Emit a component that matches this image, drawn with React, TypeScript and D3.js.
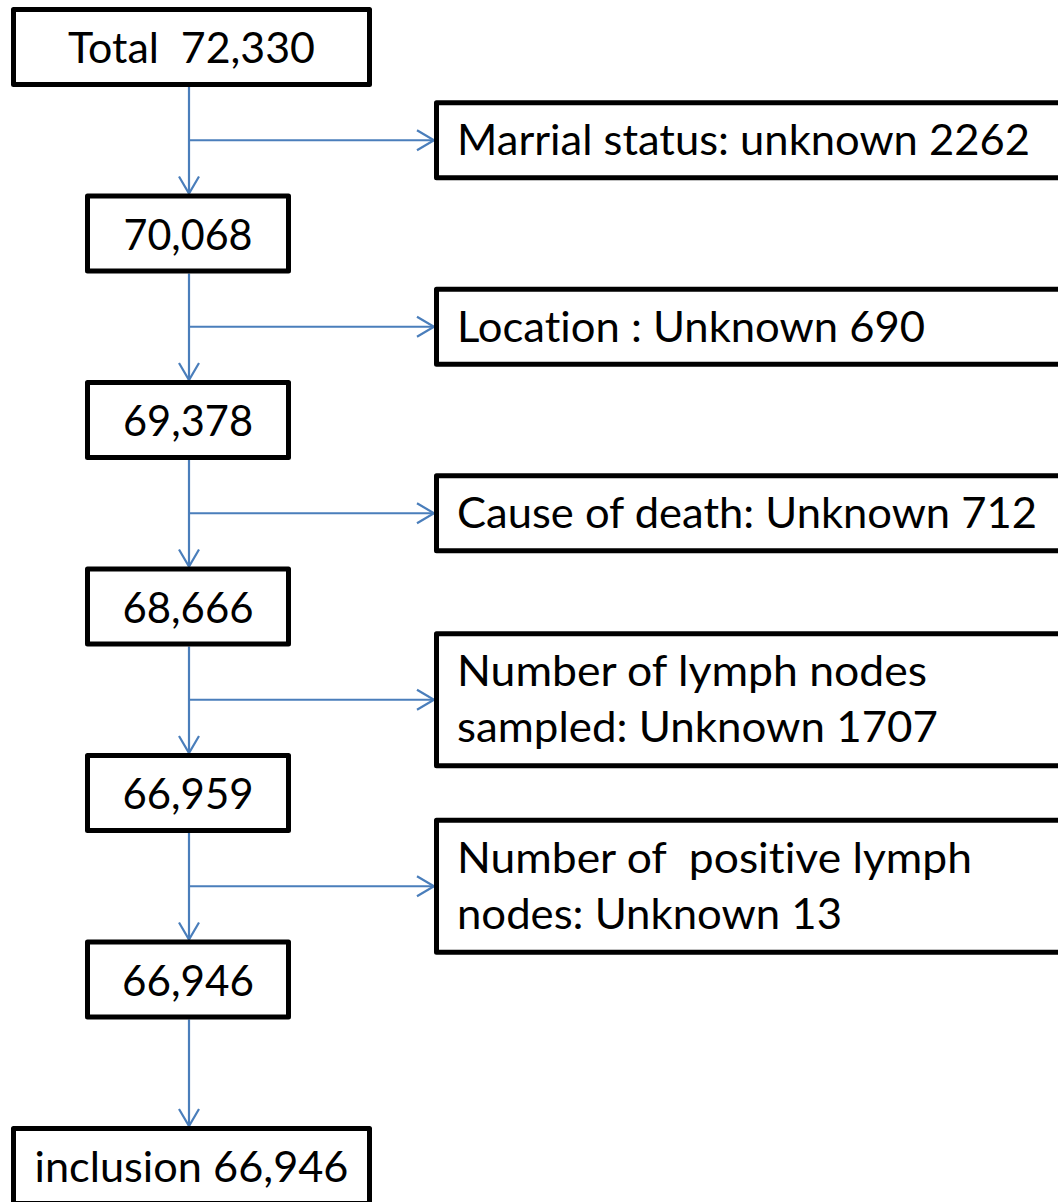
import { useRef, useEffect } from 'react';
import * as d3 from 'd3';

// patients left after each step
const stepCounts = [72330, 70068, 69378, 68666, 66959, 66946, 66946];
const stepPrefix = ['Total  ', '', '', '', '', '', 'inclusion '];

// patients excluded between steps
const excludedCounts = [2262, 690, 712, 1707, 13];
const excludedLines = [
  ['Marrial status: unknown #'],
  ['Location : Unknown #'],
  ['Cause of death: Unknown #'],
  ['Number of lymph nodes', 'sampled: Unknown #'],
  ['Number of  positive lymph', 'nodes: Unknown #'],
];

// measured text widths (px) so the fallback font fills the same space as Calibri
const stepTextW = [247, 129, 130, 131, 131, 132, 314];
const excludedTextW = [[573], [468], [580], [470, 481], [515, 385]];

const W = 1058;
const H = 1202;
const FONT = 'Lato, "Open Sans", sans-serif';
const FS = 43;
const BLUE = '#4a7ebb';

const App = () => {
  const svgRef = useRef<SVGSVGElement>(null);

  useEffect(() => {
    const svg = d3.select(svgRef.current);
    svg.selectAll('*').remove();

    const fmt = d3.format(',');
    // vertical position of each step box (center)
    const y = d3.scaleLinear().domain([0, stepCounts.length - 1]).range([47, 1166]);

    const arrowX = 189;
    const rightX = 434; // outer left edge of the exclusion boxes

    const chevronDown = (x: number, tip: number) =>
      `M${x - 10},${tip - 17}L${x},${tip}L${x + 10},${tip - 17}`;
    const chevronRight = (tip: number, yy: number) =>
      `M${tip - 17},${yy - 10}L${tip},${yy}L${tip - 17},${yy + 10}`;

    const arrows = svg.append('g')
      .attr('fill', 'none')
      .attr('stroke', BLUE)
      .attr('stroke-width', 2.2);

    // vertical arrows between step boxes
    d3.range(stepCounts.length - 1).forEach(i => {
      const y0 = y(i) + 40;
      const y1 = y(i + 1) - 40;
      arrows.append('line')
        .attr('x1', arrowX).attr('x2', arrowX)
        .attr('y1', y0).attr('y2', y1);
      arrows.append('path').attr('d', chevronDown(arrowX, y1));
    });

    const addText = (g: any, x: number, yy: number, tw: number, s: string) =>
      g.append('text')
        .attr('x', x)
        .attr('y', yy)
        .attr('textLength', tw)
        .attr('lengthAdjust', 'spacingAndGlyphs')
        .style('white-space', 'pre')
        .style('font-variant-ligatures', 'none')
        .style('font-feature-settings', '"liga" 0, "clig" 0')
        .attr('font-family', FONT)
        .attr('font-size', FS)
        .attr('fill', '#000')
        .text(s);

    // step boxes
    stepCounts.forEach((n, i) => {
      const wide = stepPrefix[i] !== '';
      const cx = wide ? 191.5 : 188;
      const w = wide ? 356 : 201;
      const g = svg.append('g');
      g.append('rect')
        .attr('x', cx - w / 2)
        .attr('y', y(i) - 37.5)
        .attr('width', w)
        .attr('height', 75)
        .attr('fill', '#fff')
        .attr('stroke', '#000')
        .attr('stroke-width', 5)
        .attr('stroke-linejoin', 'round');
      const tw = stepTextW[i];
      addText(g, cx - tw / 2, y(i) + 16, tw, stepPrefix[i] + fmt(n));
    });

    // exclusion branches and boxes
    excludedCounts.forEach((n, i) => {
      const by = (y(i) + y(i + 1)) / 2;
      arrows.append('line')
        .attr('x1', arrowX).attr('x2', rightX)
        .attr('y1', by).attr('y2', by);
      arrows.append('path').attr('d', chevronRight(rightX, by));

      const lines = excludedLines[i];
      const h = lines.length === 1 ? 80 : 137;
      const g = svg.append('g');
      g.append('rect')
        .attr('x', rightX + 2.5)
        .attr('y', by - h / 2 + 2.5)
        .attr('width', 700)
        .attr('height', h - 5)
        .attr('fill', '#fff')
        .attr('stroke', '#000')
        .attr('stroke-width', 5)
        .attr('stroke-linejoin', 'round');
      const base = by + 15 - (lines.length - 1) * 28.5;
      lines.forEach((ln, k) => {
        addText(g, rightX + 23, base + k * 56, excludedTextW[i][k], ln.replace('#', String(n)));
      });
    });
  }, []);

  return (
    <div>
      <svg
        ref={svgRef}
        width={W}
        height={H}
        style={{ position: 'absolute', left: 0, top: 0, display: 'block', background: '#fff' }}
      />
    </div>
  );
};

export default App;
